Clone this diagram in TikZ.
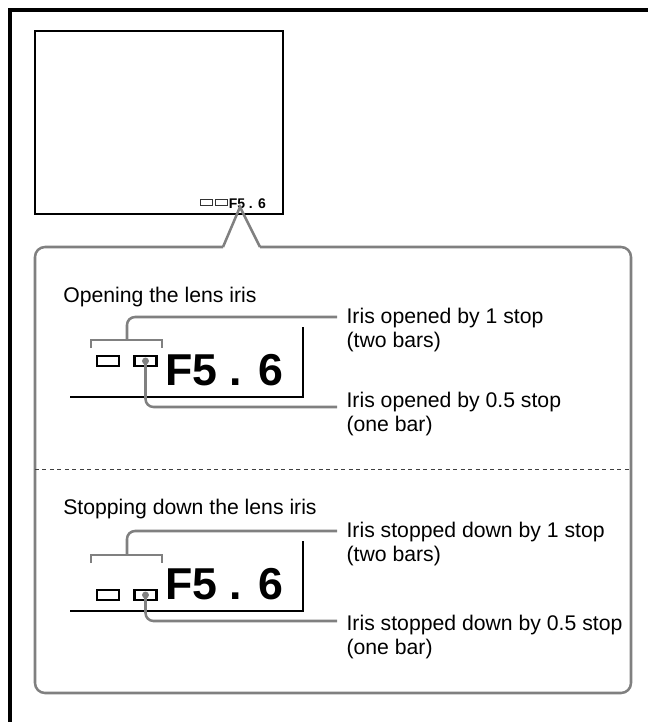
\documentclass[tikz,border=0pt]{standalone}
\usepackage{fontspec}
\setmainfont{Liberation Sans}
\usepackage{xcolor}
\usetikzlibrary{positioning, calc}

\definecolor{calloutgray}{RGB}{128,128,128}

\begin{document}
\begin{tikzpicture}[
    x=0.75pt, y=-0.75pt,
    frame/.style={line width=2.4pt, black},
    callout/.style={draw=calloutgray, line width=1.9pt},
    conn/.style={draw=calloutgray, line width=1.9pt, rounded corners=6pt},
    bracketline/.style={draw=calloutgray, line width=1.9pt},
    thinline/.style={draw=black, line width=0.8pt},
    sepline/.style={draw=black!75, line width=0.7pt, dash pattern=on 3pt off 2.6pt},
    bar/.style={draw=black, line width=1.6pt, minimum width=16.5pt, minimum height=7.5pt, inner sep=0pt},
    minibar/.style={draw=black!80, line width=0.6pt, minimum width=9pt, minimum height=5pt, inner sep=0pt},
    title/.style={font=\fontsize{15.9}{18}\selectfont, anchor=base west, inner sep=0pt},
    lbl/.style={font=\fontsize{15.9}{18}\selectfont, align=left, anchor=north west, inner xsep=7pt, inner ysep=0pt},
    fbig/.style={font=\fontsize{33.5}{36}\selectfont\bfseries, anchor=base west, inner sep=0pt},
    fsmall/.style={font=\fontsize{10.5}{12}\selectfont\bfseries, anchor=base west, inner sep=0pt},
]
\useasboundingbox (0,0) rectangle (648,722);

% === Page frame ===
\draw[frame] (648,10) -- (10,10) -- (10,722);

% === Viewfinder screen ===
\draw[thinline] (35,31) rectangle (283,214);
\node[minibar] (miniA) at (206.5,202.5) {};
\node[minibar] (miniB) at (221.5,202.5) {};
\node[fsmall] (fsmall) at (228.5,208.5) {F5 . 6};

% === Callout balloon ===
\draw[callout, rounded corners=7.5pt] (223,247) -- (35,247) -- (35,693) -- (631,693) -- (631,247) -- (260,247);
\draw[callout] (223,247) -- (240,207) -- (260,247);

% === Opening the lens iris ===
\node[title] (openTitle) at (63,302) {Opening the lens iris};
\draw[bracketline] (91,348) -- (91,340) -- (162,340) -- (162,348);
\coordinate (openBr) at (127,340);
\node[bar] (openBarA) at (108,361) {};
\node[bar] (openBarB) at (145.5,361) {};
\node[fbig] (openF) at (165,385) {F5 . 6};
\draw[thinline] (303,327) -- (303,397) -- (70,397);

\node[lbl] (openOne) at (337,308) {Iris opened by 1 stop\\(two bars)};
\node[lbl] (openHalf) at (337,392) {Iris opened by 0.5 stop\\(one bar)};
\draw[conn] (openBr) |- ([yshift=-6.75pt]openOne.north west);
\draw[conn] (openBarB.center) |- ([yshift=-11.25pt]openHalf.north west);
\fill[calloutgray] (openBarB.center) circle (2.6pt);

% === Separator ===
\draw[sepline] (35,469) -- (631,469);

% === Stopping down the lens iris ===
\node[title] (stopTitle) at (63,514) {Stopping down the lens iris};
\draw[bracketline] (91,563) -- (91,555) -- (162,555) -- (162,563);
\coordinate (stopBr) at (127,555);
\node[bar] (stopBarA) at (108,595) {};
\node[bar] (stopBarB) at (145.5,595) {};
\node[fbig] (stopF) at (165,599) {F5 . 6};
\draw[thinline] (303,541) -- (303,611) -- (70,611);

\node[lbl] (stopOne) at (337,522) {Iris stopped down by 1 stop\\(two bars)};
\node[lbl] (stopHalf) at (337,615) {Iris stopped down by 0.5 stop\\(one bar)};
\draw[conn] (stopBr) |- ([yshift=-6.75pt]stopOne.north west);
\draw[conn] (stopBarB.center) |- ([yshift=-4.5pt]stopHalf.north west);
\fill[calloutgray] (stopBarB.center) circle (2.6pt);

\end{tikzpicture}
\end{document}
